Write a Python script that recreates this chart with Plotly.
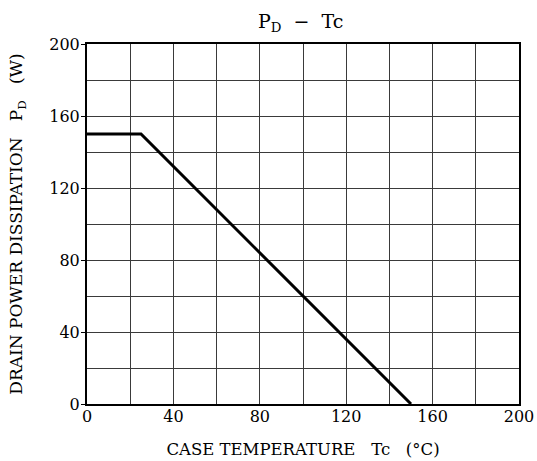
import plotly.graph_objects as go

# Power derating curve: drain power dissipation vs case temperature
case_temp_c = [0, 25, 150]
power_w = [150, 150, 0]

x_ticks = [0, 40, 80, 120, 160, 200]
y_ticks = [0, 40, 80, 120, 160, 200]

FONT = "DejaVu Serif"
NB = "\u00a0"

fig = go.Figure()
fig.add_trace(go.Scatter(
    x=case_temp_c, y=power_w, mode="lines",
    line=dict(color="black", width=3),
    hoverinfo="skip", showlegend=False,
))

axis_common = dict(
    range=[0, 200], showgrid=True, gridcolor="#3a3a3a", gridwidth=1.1,
    minor=dict(dtick=20, showgrid=True, gridcolor="#3a3a3a", gridwidth=1.1),
    showline=True, linecolor="black", linewidth=2, mirror=True,
    zeroline=False, tickfont=dict(family=FONT, size=16, color="black"),
    tickmode="array", automargin=False,
)

fig.update_layout(
    width=537, height=461,
    margin=dict(l=87, r=18, t=44, b=57),
    paper_bgcolor="white", plot_bgcolor="white",
    font=dict(family=FONT, color="black"),
    title=dict(
        text=f"P<sub>D</sub>{NB}{NB}−{NB}{NB}Tc",
        x=0.56, xanchor="center", y=0.968, yanchor="top",
        font=dict(family=FONT, size=19, color="black"),
    ),
    xaxis=dict(
        **axis_common, tickvals=x_ticks, ticktext=[str(v) for v in x_ticks],
        ticks="", ticklabelstandoff=-3,
        title=dict(text=f"CASE TEMPERATURE{NB}{NB}{NB}Tc{NB}{NB}{NB}(°C)",
                   font=dict(family=FONT, size=16.5, color="black"), standoff=18),
    ),
    yaxis=dict(
        **axis_common, tickvals=y_ticks, ticktext=[str(v) for v in y_ticks],
        ticks="outside", ticklen=4, tickcolor="black", tickwidth=1,
        ticklabelstandoff=-2,
        title=dict(text=f"DRAIN POWER DISSIPATION{NB}{NB}{NB}P<sub>D</sub>{NB}{NB}{NB}(W)",
                   font=dict(family=FONT, size=17, color="black"), standoff=22),
    ),
)

fig.write_html("out.html")
